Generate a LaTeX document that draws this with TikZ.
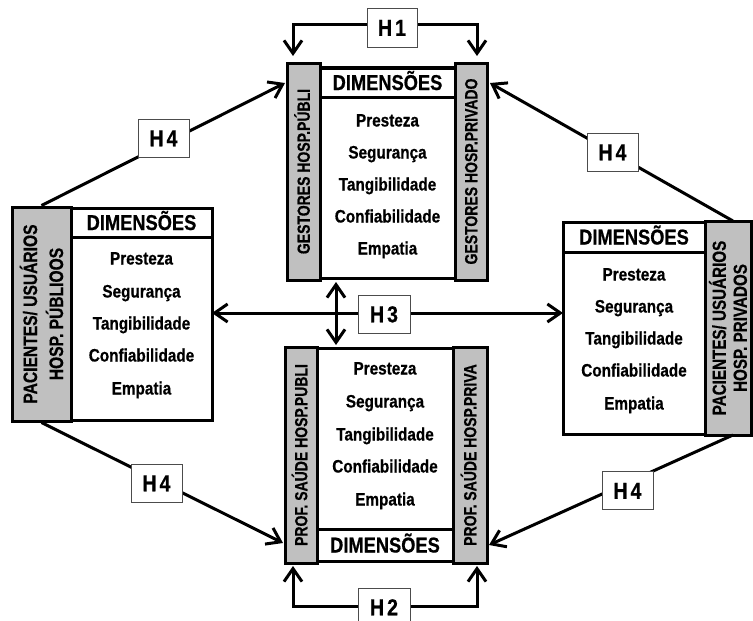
\documentclass[tikz,border=0pt]{standalone}
\usepackage{fontspec}
\setmainfont{Liberation Sans}[FakeStretch=0.85,FakeBold=0.6]
\newfontfamily\sidefont{Liberation Sans}[FakeStretch=0.8,FakeBold=0.6]
\usetikzlibrary{arrows.meta}
\definecolor{bargray}{RGB}{192,192,192}
\begin{document}
\begin{tikzpicture}[x=1pt,y=-1pt,
  bar/.style={draw, line width=3pt, fill=bargray, inner sep=0pt},
  panel/.style={draw, line width=3pt, fill=white, inner sep=0pt},
  dimbox/.style={draw, line width=3pt, fill=white, inner sep=0pt, text height=15pt, text depth=0pt, font=\fontsize{21.5}{23}\selectfont\bfseries},
  item/.style={inner sep=0pt, text height=13pt, text depth=4pt, font=\fontsize{18}{20}\selectfont\bfseries},
  side/.style={rotate=90, inner sep=0pt, text height=12.5pt, text depth=0pt, font=\sidefont\fontsize{17.5}{19}\selectfont\bfseries},
  sidetwo/.style={rotate=90, align=center, inner sep=0pt, font=\sidefont\fontsize{19.5}{26}\selectfont\bfseries},
  hlab/.style={draw=black!70, line width=1pt, fill=white, minimum width=51pt, minimum height=38pt, inner sep=0pt, text height=16.5pt, text depth=0pt, font=\fontsize{23}{25}\selectfont\bfseries},
  conn/.style={line width=3pt},
  barb/.tip={Straight Barb[length=13pt,width=18pt]}
]
\useasboundingbox (0,0) rectangle (753,621);

% ---------- top block (gestores) ----------
\node[bar, minimum width=33pt, minimum height=217pt] (tL) at (303.5,171.5) {};
\node[bar, minimum width=32pt, minimum height=217pt] (tR) at (471,171.5) {};
\node[panel, minimum width=135pt, minimum height=211pt] (tP) at (387.5,172.5) {};
\node[dimbox, minimum width=135pt, minimum height=29pt] (tD) at (387.5,82.5) {DIMENSÕES};
\node[item] (t1) at (387.5,122) {Presteza};
\node[item] (t2) at (387.5,154) {Segurança};
\node[item] (t3) at (387.5,186) {Tangibilidade};
\node[item] (t4) at (387.5,218) {Confiabilidade};
\node[item] (t5) at (387.5,250) {Empatia};
\node[side] (tLt) at (tL.center) {GESTORES HOSP.PÚBLI};
\node[side] (tRt) at (tR.center) {GESTORES HOSP.PRIVADO};

% ---------- left block (pacientes publicos) ----------
\node[bar, minimum width=59pt, minimum height=214pt] (lL) at (41.5,314) {};
\node[panel, minimum width=141pt, minimum height=212pt] (lP) at (141.5,314) {};
\node[dimbox, minimum width=141pt, minimum height=29pt] (lD) at (141.5,222.5) {DIMENSÕES};
\node[item] (l1) at (141.5,260) {Presteza};
\node[item] (l2) at (141.5,293) {Segurança};
\node[item] (l3) at (141.5,325) {Tangibilidade};
\node[item] (l4) at (141.5,357) {Confiabilidade};
\node[item] (l5) at (141.5,390) {Empatia};
\node[sidetwo] (lLt) at (lL.center) {PACIENTES/ USUÁRIOS\\HOSP. PÚBLIOOS};

% ---------- right block (pacientes privados) ----------
\node[bar, minimum width=46pt, minimum height=214pt] (rL) at (728,328) {};
\node[panel, minimum width=142pt, minimum height=212pt] (rP) at (634,328) {};
\node[dimbox, minimum width=142pt, minimum height=30pt] (rD) at (634,237) {DIMENSÕES};
\node[item] (r1) at (634,276) {Presteza};
\node[item] (r2) at (634,308) {Segurança};
\node[item] (r3) at (634,340) {Tangibilidade};
\node[item] (r4) at (634,372) {Confiabilidade};
\node[item] (r5) at (634,405) {Empatia};
\node[sidetwo, font=\sidefont\fontsize{19}{21}\selectfont\bfseries] (rLt) at (rL.center) {PACIENTES/ USUÁRIOS\\HOSP. PRIVADOS};

% ---------- bottom block (profissionais) ----------
\node[bar, minimum width=32pt, minimum height=216pt] (bL) at (301,455) {};
\node[bar, minimum width=34pt, minimum height=216pt] (bR) at (470,455) {};
\node[panel, minimum width=136pt, minimum height=213pt] (bP) at (385,454.5) {};
\node[dimbox, minimum width=136pt, minimum height=32pt] (bD) at (385,545) {DIMENSÕES};
\node[item] (b1) at (385,370) {Presteza};
\node[item] (b2) at (385,403) {Segurança};
\node[item] (b3) at (385,436) {Tangibilidade};
\node[item] (b4) at (385,468) {Confiabilidade};
\node[item] (b5) at (385,501) {Empatia};
\node[side] (bLt) at (bL.center) {PROF. SAÚDE HOSP.PUBLI};
\node[side] (bRt) at (bR.center) {PROF. SAÚDE HOSP.PRIVA};

% ---------- connector end points ----------
\coordinate (h1a) at (293,56);
\coordinate (h1b) at (477,56);
\coordinate (h2a) at (293,566);
\coordinate (h2b) at (477,566);
\coordinate (h3a) at (212,313);
\coordinate (h3b) at (563,313);
\coordinate (v1) at (336,282);
\coordinate (v2) at (336,345);
\coordinate (tlIn) at (285,83);
\coordinate (trIn) at (490,83);
\coordinate (blIn) at (283,543);
\coordinate (brIn) at (489,545);
\coordinate (rTop) at (733,221);
\coordinate (rBot) at (733,435);

% ---------- connectors ----------
\draw[conn, barb-barb] (h1a) -- ++(0,-32) -| (h1b);
\draw[conn, barb-barb] (h2a) -- ++(0,40) -| (h2b);
\draw[conn, barb-barb] (h3a) -- (h3b);
\draw[conn, barb-barb] (v1) -- (v2);
\draw[conn, -barb] (lL.north) -- (tlIn);
\draw[conn, -barb] (rTop) -- (trIn);
\draw[conn, -barb] (lL.south) -- (blIn);
\draw[conn, -barb] (rBot) -- (brIn);

% ---------- hypothesis labels ----------
\node[hlab, minimum width=50pt, minimum height=39pt] (H1) at (392,27.5) {H\hspace{3pt}1};
\node[hlab, minimum width=52pt] (H2) at (384,607) {H\hspace{3pt}2};
\node[hlab, minimum width=52pt] (H3) at (384,314) {H\hspace{3pt}3};
\node[hlab] (H4a) at (163.5,138) {H\hspace{3pt}4};
\node[hlab] (H4b) at (612.5,152) {H\hspace{3pt}4};
\node[hlab] (H4c) at (156.5,483) {H\hspace{3pt}4};
\node[hlab] (H4d) at (627.5,490.5) {H\hspace{3pt}4};
\end{tikzpicture}
\end{document}
